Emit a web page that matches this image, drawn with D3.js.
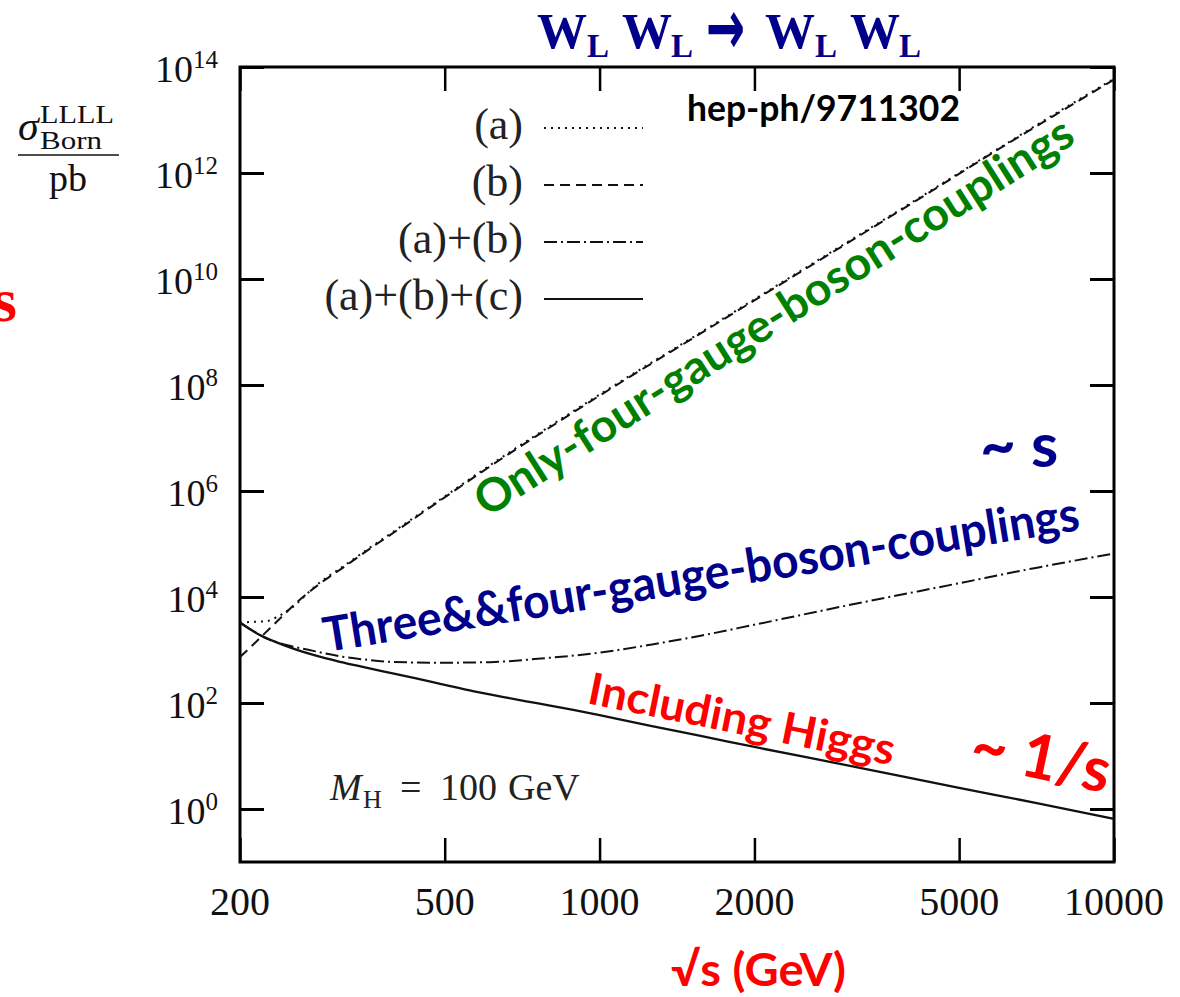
<!DOCTYPE html>
<html>
<head>
<meta charset="utf-8">
<script src="https://cdn.jsdelivr.net/npm/d3@7"></script>
<style>
body{margin:0;background:#fff;}
</style>
</head>
<body>
<div id="viz-container"></div>
<script>
// values: sqrt(s) in GeV, sigma in pb

// (a) dotted
let energyA = [200,212,225,237,250,283,320,360,410,500,638,800,1000,1500,2455,4000,6030,8000,10000];
let sigmaA  = [3.3e3,3.4e3,3.5e3,4.3e3,5.9e3,1.74e4,4.0e4,8.9e4,2.1e5,7.9e5,4.0e6,1.66e7,6.6e7,7.4e8,1.41e10,2.6e11,3.1e12,1.66e13,6.0e13];
// (b) dashed
let energyB = [200,210,220,237,256,283,320,360,410,500,638,800,1000,1500,2455,4000,6030,8000,10000];
let sigmaB  = [7.4e2,1.15e3,1.78e3,3.6e3,7.4e3,1.66e4,3.8e4,8.5e4,2.0e5,7.6e5,3.8e6,1.58e7,6.3e7,7.1e8,1.35e10,2.5e11,3.0e12,1.58e13,5.8e13];
// (a)+(b) dash-dot
let energyAB = [200,212,225,250,270,313,350,392,490,613,768,1000,1257,1572,2000,3000,5000,7000,10000];
let sigmaAB  = [3.3e3,2.3e3,1.66e3,1.2e3,1.02e3,7.6e2,6.6e2,6.0e2,5.75e2,5.9e2,6.9e2,8.9e2,1.26e3,1.86e3,3.0e3,6.8e3,1.82e4,3.5e4,6.6e4];
// (a)+(b)+(c) solid
let energyABC = [200,210,220,235,250,280,313,350,392,440,490,570,660,760,889,1000,1257,1572,2000,3000,5000,7000,10000];
let sigmaABC  = [3.3e3,2.4e3,1.86e3,1.41e3,1.12e3,7.9e2,6.0e2,4.7e2,3.7e2,2.9e2,2.3e2,1.66e2,1.26e2,98,74,59,37,24,14.8,6.8,2.5,1.32,0.65];

let legendLabels = ["(a)","(b)","(a)+(b)","(a)+(b)+(c)"];
let xTicks = [200,500,1000,2000,5000,10000];
let yTickExps = [0,2,4,6,8,10,12,14];

let serif = "'Liberation Serif','Times New Roman',serif";
let sans = "Lato,'Open Sans',sans-serif";
let navy = "#00008b";

let viz = d3.select("#viz-container")
  .append("svg")
    .attr("width",1180)
    .attr("height",997)
    .style("background","#fff");

let x = d3.scaleLog().domain([200,10000]).range([240,1114]);
let y = d3.scaleLog().domain([1e-1,1e14]).range([862,67]);

let yVals = yTickExps.map(e => Math.pow(10,e));

//////////////// axes (ticks only, frame drawn below)
function tidy(g, w){
  g.select(".domain").remove();
  g.selectAll("line").attr("stroke","#000").attr("stroke-width",w);
}
viz.append("g").attr("transform","translate(240,0)")
  .call(d3.axisLeft(y).tickValues(yVals).tickSizeInner(-24).tickSizeOuter(0).tickFormat(""))
  .call(tidy,3);
viz.append("g").attr("transform","translate(1114,0)")
  .call(d3.axisRight(y).tickValues(yVals).tickSizeInner(-24).tickSizeOuter(0).tickFormat(""))
  .call(tidy,3);
viz.append("g").attr("transform","translate(0,862)")
  .call(d3.axisBottom(x).tickValues(xTicks).tickSizeInner(-24).tickSizeOuter(0).tickFormat(""))
  .call(tidy,2.5);
viz.append("g").attr("transform","translate(0,67)")
  .call(d3.axisTop(x).tickValues(xTicks).tickSizeInner(-24).tickSizeOuter(0).tickFormat(""))
  .call(tidy,2.5);

viz.append("rect")
  .attr("x",x(200)).attr("y",y(1e14))
  .attr("width",x(10000)-x(200)).attr("height",y(1e-1)-y(1e14))
  .attr("fill","none").attr("stroke","#000").attr("stroke-width",3);

// tick labels
viz.selectAll(".xlab").data(xTicks).enter()
  .append("text")
    .attr("class","xlab")
    .attr("x",d => x(d))
    .attr("y",915)
    .attr("text-anchor","middle")
    .attr("font-family",serif)
    .attr("font-size",40)
    .attr("fill","#111")
    .text(d => d);

viz.selectAll(".ylab").data(yTickExps).enter()
  .append("text")
    .attr("class","ylab")
    .attr("x",218)
    .attr("y",d => y(Math.pow(10,d))+15)
    .attr("text-anchor","end")
    .attr("font-family",serif)
    .attr("fill","#111")
    .each(function(d){
      let t = d3.select(this);
      t.append("tspan").attr("font-size",38).text("10");
      t.append("tspan").attr("font-size",25).attr("dy",-14).text(d);
    });

//////////////// curves
let line = d3.line()
  .x(d => x(d[0]))
  .y(d => y(d[1]))
  .curve(d3.curveMonotoneX);

let series = [
  {e:energyA, s:sigmaA, dash:"2,5", w:2},
  {e:energyB, s:sigmaB, dash:"10,6", w:2},
  {e:energyAB, s:sigmaAB, dash:"13,4,2,4", w:2},
  {e:energyABC, s:sigmaABC, dash:null, w:2.3}
];

viz.selectAll(".curve").data(series).enter()
  .append("path")
    .attr("class","curve")
    .attr("d",d => line(d3.zip(d.e,d.s)))
    .attr("fill","none")
    .attr("stroke","#111")
    .attr("stroke-width",d => d.w)
    .attr("stroke-dasharray",d => d.dash);

//////////////// legend
let legend = viz.selectAll(".leg").data(legendLabels).enter()
  .append("g")
    .attr("class","leg")
    .attr("transform",(d,i) => "translate(0," + (128+i*57) + ")");
legend.append("text")
  .attr("x",523).attr("y",11)
  .attr("text-anchor","end")
  .attr("font-family",serif)
  .attr("font-size",44)
  .attr("fill","#222")
  .text(d => d);
legend.append("line")
  .attr("x1",544).attr("x2",643)
  .attr("y1",0).attr("y2",0)
  .attr("stroke","#111")
  .attr("stroke-width",2)
  .attr("stroke-dasharray",(d,i) => series[i].dash);

//////////////// y label (fraction)
viz.append("text").attr("x",18).attr("y",140)
  .attr("font-family",serif).attr("font-size",42).attr("font-style","italic").attr("fill","#111").text("σ");
viz.append("text").attr("x",40).attr("y",123)
  .attr("font-family",serif).attr("font-size",25).attr("fill","#111")
  .attr("textLength",74).attr("lengthAdjust","spacingAndGlyphs").text("LLLL");
viz.append("text").attr("x",40).attr("y",149)
  .attr("font-family",serif).attr("font-size",25).attr("fill","#111")
  .attr("textLength",62).attr("lengthAdjust","spacingAndGlyphs").text("Born");
viz.append("line").attr("x1",18).attr("x2",119).attr("y1",155).attr("y2",155)
  .attr("stroke","#111").attr("stroke-width",1.6);
viz.append("text").attr("x",68).attr("y",191).attr("text-anchor","middle")
  .attr("font-family",serif).attr("font-size",38).attr("fill","#111").text("pb");

//////////////// M_H
let mh = viz.append("text").attr("font-family",serif).attr("font-size",38).attr("fill","#222");
mh.append("tspan").attr("x",330).attr("y",800).attr("font-style","italic").text("M");
mh.append("tspan").attr("x",363).attr("y",808).attr("font-size",26).text("H");
mh.append("tspan").attr("x",400).attr("y",800).text("=");
mh.append("tspan").attr("x",440).attr("y",800).text("100");
mh.append("tspan").attr("x",508).attr("y",800).text("GeV");

//////////////// title
let title = viz.append("text").attr("font-family",serif).attr("font-weight","bold").attr("fill",navy);
let parts = [["W",537],["L",587],["W",622],["L",671],["W",765],["L",815],["W",850],["L",899]];
parts.forEach(p => {
  if(p[0]=="W"){
    title.append("tspan").attr("x",p[1]).attr("y",48).attr("font-size",50).text("W");
  } else {
    title.append("tspan").attr("x",p[1]).attr("y",57).attr("font-size",33).text("L");
  }
});
viz.append("text").attr("transform","translate(706,54) scale(0.9,1.5)")
  .attr("font-family","'DejaVu Sans',sans-serif").attr("font-weight","bold")
  .attr("font-size",52).attr("fill",navy).text("→");

//////////////// annotations
viz.append("text").attr("x",687).attr("y",121)
  .attr("font-family",sans).attr("font-weight","bold").attr("font-size",36)
  .attr("textLength",273).attr("lengthAdjust","spacingAndGlyphs")
  .attr("fill","#000").text("hep-ph/9711302");

viz.append("text")
  .attr("transform","translate(487,518) rotate(-32.5)")
  .attr("font-family",sans).attr("font-weight","bold").attr("font-size",46)
  .attr("textLength",700).attr("lengthAdjust","spacingAndGlyphs")
  .attr("fill","#008000").text("Only-four-gauge-boson-couplings");

viz.append("text")
  .attr("transform","translate(326,652) rotate(-9.2)")
  .attr("font-family",sans).attr("font-weight","bold").attr("font-size",48)
  .attr("textLength",765).attr("lengthAdjust","spacingAndGlyphs")
  .attr("fill",navy).text("Three&&four-gauge-boson-couplings");

viz.append("text")
  .attr("x",980).attr("y",467)
  .attr("font-family",sans).attr("font-weight","bold").attr("font-size",62)
  .attr("fill",navy).text("~ s");

viz.append("text")
  .attr("transform","translate(586,703) rotate(11.5)")
  .attr("font-family",sans).attr("font-weight","bold").attr("font-size",44)
  .attr("textLength",312).attr("lengthAdjust","spacingAndGlyphs")
  .attr("fill","#ff0000").text("Including Higgs");

viz.append("text")
  .attr("transform","translate(968,764) rotate(12)")
  .attr("font-family",sans).attr("font-weight","bold").attr("font-size",62)
  .attr("fill","#ff0000").text("~ 1/s");

viz.append("text").attr("x",671).attr("y",986)
  .attr("font-family",sans).attr("font-weight","bold").attr("font-size",46)
  .attr("textLength",175).attr("lengthAdjust","spacingAndGlyphs")
  .attr("fill","#ff0000").text("√s (GeV)");

viz.append("text").attr("x",17).attr("y",321).attr("text-anchor","end")
  .attr("font-family",serif).attr("font-weight","bold").attr("font-size",62)
  .attr("fill","#ff0000").text("s");
</script>
</body>
</html>
